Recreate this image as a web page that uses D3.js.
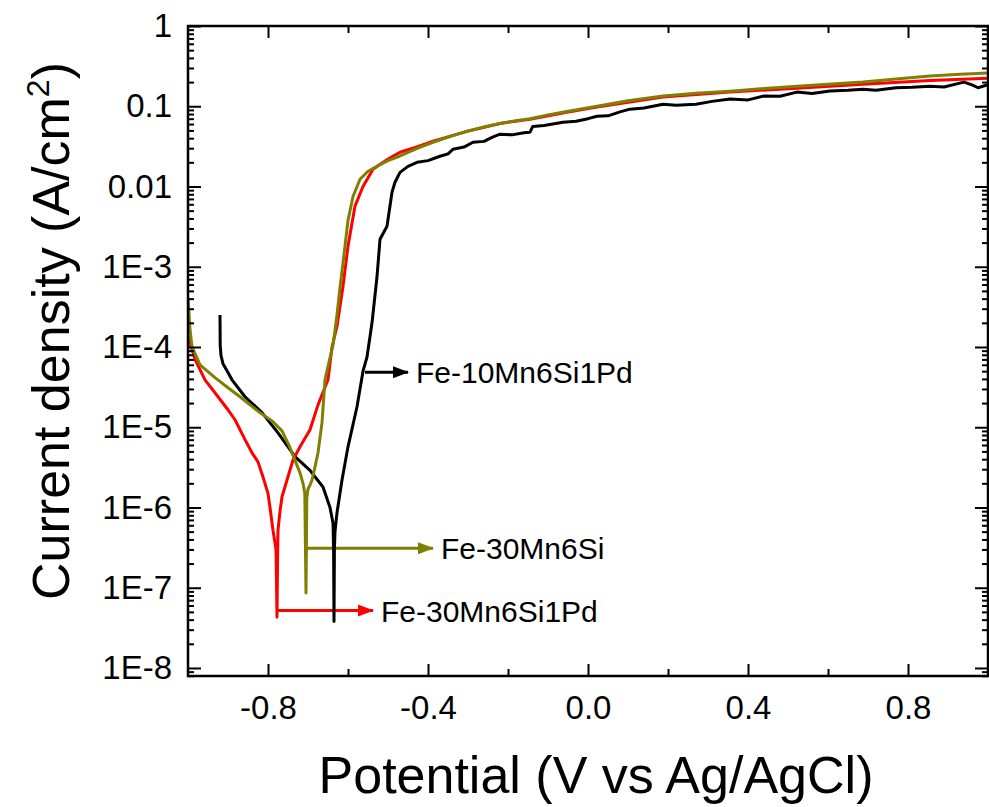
<!DOCTYPE html>
<html>
<head>
<meta charset="utf-8">
<script src="https://cdn.jsdelivr.net/npm/d3@7"></script>
<style>
  body { margin: 0; background: #fff; }
  text { font-family: Arial, "Liberation Sans", sans-serif; }
</style>
</head>
<body>
<div id="chart"></div>
<script>
// ---- data ----
var xTicks = [-0.8, -0.4, 0.0, 0.4, 0.8];
var xTickLabels = ["-0.8", "-0.4", "0.0", "0.4", "0.8"];
var xMinorTicks = [-0.6, -0.2, 0.2, 0.6];
var yTicks = [1, 0.1, 0.01, 1e-3, 1e-4, 1e-5, 1e-6, 1e-7, 1e-8];
var yTickLabels = ["1", "0.1", "0.01", "1E-3", "1E-4", "1E-5", "1E-6", "1E-7", "1E-8"];

// Fe-10Mn6Si1Pd (black)
var blackV = [-0.92, -0.9195, -0.9175, -0.9125, -0.90, -0.89, -0.8575, -0.815, -0.775, -0.7325, -0.695, -0.6625, -0.645, -0.6375, -0.636, -0.635, -0.634, -0.6325, -0.6275, -0.615, -0.60, -0.5775, -0.5625, -0.5525, -0.545, -0.54, -0.5275, -0.52, -0.5025, -0.49, -0.4825, -0.47,
  -0.45, -0.4275, -0.40, -0.37, -0.35, -0.3375, -0.31, -0.2875, -0.26, -0.24, -0.22, -0.19, -0.16, -0.145, -0.138, -0.11, -0.0625, -0.03, 0.0, 0.0225, 0.05, 0.08, 0.105, 0.14, 0.1875, 0.22, 0.27, 0.31, 0.355, 0.40, 0.44, 0.48, 0.5225, 0.56, 0.605, 0.65, 0.6875, 0.72, 0.77, 0.81, 0.855, 0.89, 0.94, 0.96, 0.975, 1.0];
var blackI = [2.5e-4, 1.05e-4, 7.8e-5, 6.2e-5, 4.8e-5, 3.9e-5, 2.4e-5, 1.52e-5, 8.5e-6, 4.3e-6, 2.9e-6, 1.8e-6, 1.0e-6, 6.4e-7, 3.0e-7, 3.8e-8, 3.0e-7, 5.0e-7, 8.6e-7, 2.2e-6, 5.7e-6, 1.8e-5, 5.0e-5, 7.5e-5, 1.35e-4, 2.0e-4, 7.5e-4, 2.2e-3, 3.2e-3, 8.5e-3, 1.13e-2, 1.5e-2,
  0.0178, 0.0200, 0.0210, 0.0238, 0.0255, 0.0291, 0.0310, 0.0356, 0.0365, 0.0410, 0.0449, 0.0440, 0.0468, 0.0475, 0.0560, 0.0575, 0.0633, 0.0650, 0.0700, 0.0752, 0.0760, 0.0850, 0.0920, 0.0950, 0.1060, 0.1030, 0.1060, 0.1150, 0.1230, 0.1200, 0.1340, 0.1330, 0.1500, 0.1440, 0.1550, 0.1580, 0.1630, 0.1580, 0.1700, 0.1720, 0.1780, 0.1740, 0.2000, 0.1850, 0.1700, 0.1850];

// Fe-30Mn6Si1Pd (red)
var redV = [-1.0, -0.9825, -0.9575, -0.925, -0.90, -0.8825, -0.8575, -0.84, -0.825, -0.8125, -0.80, -0.795, -0.7875, -0.78, -0.7775, -0.776, -0.775, -0.77, -0.765, -0.7525, -0.7375, -0.72, -0.695, -0.675, -0.65, -0.64, -0.6275, -0.6125, -0.60, -0.5825, -0.5625, -0.5375, -0.50, -0.47, -0.43, -0.3875, -0.30, -0.22, -0.145, -0.06, 0.0225, 0.1875, 0.355, 0.5225, 0.6875, 0.855, 1.0];
var redI = [1.35e-4, 7.0e-5, 3.9e-5, 2.4e-5, 1.65e-5, 1.24e-5, 7.0e-6, 4.8e-6, 3.7e-6, 2.4e-6, 1.5e-6, 1.0e-6, 5.2e-7, 3.0e-7, 4.3e-8, 2.5e-7, 5.2e-7, 9.0e-7, 1.36e-6, 2.2e-6, 3.9e-6, 5.7e-6, 9.3e-6, 1.9e-5, 3.9e-5, 1.0e-4, 1.8e-4, 5.7e-4, 1.8e-3, 5.7e-3, 1.0e-2, 1.64e-2, 2.2e-2, 2.67e-2, 3.1e-2, 3.67e-2, 4.9e-2, 6.1e-2, 6.9e-2, 8.3e-2, 0.098, 0.130, 0.150, 0.168, 0.188, 0.210, 0.224];

// Fe-30Mn6Si (olive)
var oliveV = [-1.0, -0.995, -0.99, -0.97, -0.9325, -0.90, -0.87, -0.845, -0.82, -0.79, -0.765, -0.745, -0.73, -0.72, -0.7125, -0.708, -0.705, -0.703, -0.70, -0.695, -0.69, -0.6825, -0.675, -0.665, -0.6575, -0.6475, -0.6375, -0.628, -0.62, -0.6075, -0.60, -0.5875, -0.57, -0.55, -0.5275, -0.50, -0.47, -0.43, -0.3875, -0.345, -0.3025, -0.26, -0.22, -0.18, -0.145, -0.10, -0.06, 0.0225, 0.10, 0.1875, 0.27, 0.355, 0.44, 0.5225, 0.60, 0.6875, 0.77, 0.855, 0.93, 1.0];
var oliveI = [4.14e-4, 1.65e-4, 1.01e-4, 6.0e-5, 4.15e-5, 3.1e-5, 2.4e-5, 1.9e-5, 1.52e-5, 1.2e-5, 9.0e-6, 5.6e-6, 3.6e-6, 2.7e-6, 2.0e-6, 1.5e-6, 8.6e-8, 1.3e-6, 1.7e-6, 1.9e-6, 2.2e-6, 3.2e-6, 4.8e-6, 1.14e-5, 3.9e-5, 6.5e-5, 1.05e-4, 2.4e-4, 5.5e-4, 1.8e-3, 3.8e-3, 7.5e-3, 1.23e-2, 1.55e-2, 1.79e-2, 2.1e-2, 2.4e-2, 2.95e-2, 3.56e-2, 4.2e-2, 4.89e-2, 5.5e-2, 6.1e-2, 6.6e-2, 7.0e-2, 7.8e-2, 8.5e-2, 0.100, 0.117, 0.134, 0.145, 0.154, 0.166, 0.178, 0.188, 0.200, 0.218, 0.238, 0.250, 0.259];

// arrow annotations: [V start, V end, current level]
var seriesNames = ["Fe-10Mn6Si1Pd", "Fe-30Mn6Si", "Fe-30Mn6Si1Pd"];
var seriesColors = ["#000000", "#808000", "#ff0000"];
var arrowV0 = [-0.5575, -0.705, -0.7775];
var arrowV1 = [-0.45, -0.3875, -0.5375];
var arrowI = [4.85e-5, 3.1e-7, 5.2e-8];

(function(){
  var W = 989, H = 807;
  var pLeft = 188, pRight = 988, pTop = 26, pBottom = 676;

  var svg = d3.select("#chart").append("svg")
      .attr("width", W)
      .attr("height", H);

  var x = d3.scaleLinear().domain([-1, 1]).range([pLeft, pRight]);
  var y = d3.scaleLog().domain([Math.pow(10, -8.1), 1]).range([pBottom, pTop]);

  var yMinor = [];
  for (var d = -9; d <= 0; d++) {
    for (var k = 2; k <= 9; k++) {
      var v = k * Math.pow(10, d);
      if (v >= y.domain()[0] && v <= 1) yMinor.push(v);
    }
  }

  var defs = svg.append("defs");
  defs.append("clipPath").attr("id", "plotclip")
    .append("rect")
      .attr("x", pLeft).attr("y", pTop)
      .attr("width", pRight - pLeft).attr("height", pBottom - pTop);

  seriesColors.forEach(function(c, i){
    defs.append("marker")
        .attr("id", "arrow" + i)
        .attr("markerUnits", "userSpaceOnUse")
        .attr("viewBox", "0 0 16 12")
        .attr("refX", 15).attr("refY", 6)
        .attr("markerWidth", 16).attr("markerHeight", 12)
        .attr("orient", "auto")
      .append("path")
        .attr("d", "M0,0 L16,6 L0,12 Z")
        .style("fill", c);
  });

  // annotations (under the curves)
  var ann = svg.append("g");
  seriesNames.forEach(function(name, i){
    ann.append("line")
        .attr("x1", x(arrowV0[i])).attr("y1", y(arrowI[i]))
        .attr("x2", x(arrowV1[i])).attr("y2", y(arrowI[i]))
        .style("stroke", seriesColors[i])
        .style("stroke-width", 3)
        .attr("marker-end", "url(#arrow" + i + ")");
    ann.append("text")
        .attr("x", x(arrowV1[i]) + 8)
        .attr("y", y(arrowI[i]) + 11)
        .style("font-size", "30px")
        .style("fill", "#000")
        .text(name);
  });

  // curves
  var line = d3.line()
      .x(function(p){ return x(p[0]); })
      .y(function(p){ return y(p[1]); });

  var curves = svg.append("g").attr("clip-path", "url(#plotclip)");
  var series = [
    { v: blackV, i: blackI, color: "#000000" },
    { v: redV, i: redI, color: "#ff0000" },
    { v: oliveV, i: oliveI, color: "#808000" }
  ];
  series.forEach(function(s){
    curves.append("path")
        .datum(d3.zip(s.v, s.i))
        .attr("d", line)
        .style("fill", "none")
        .style("stroke", s.color)
        .style("stroke-width", 3)
        .style("stroke-linejoin", "round");
  });

  // axes
  function styleAxis(g){
    g.select(".domain").remove();
    g.attr("font-size", null).attr("font-family", null);
    g.selectAll(".tick line").style("stroke", "#000").style("stroke-width", 2);
    g.selectAll("text").style("font-size", "33px").style("fill", "#000");
  }

  svg.append("g").attr("transform", "translate(0," + pBottom + ")")
    .call(d3.axisBottom(x).tickValues(xTicks).tickSize(-12).tickPadding(20)
      .tickFormat(function(d, i){ return xTickLabels[i]; }))
    .call(styleAxis);
  svg.append("g").attr("transform", "translate(0," + pBottom + ")")
    .call(d3.axisBottom(x).tickValues(xMinorTicks).tickSize(-7).tickFormat(""))
    .call(styleAxis);
  svg.append("g").attr("transform", "translate(0," + pTop + ")")
    .call(d3.axisTop(x).tickValues(xTicks).tickSize(-12).tickFormat(""))
    .call(styleAxis);
  svg.append("g").attr("transform", "translate(0," + pTop + ")")
    .call(d3.axisTop(x).tickValues(xMinorTicks).tickSize(-7).tickFormat(""))
    .call(styleAxis);

  svg.append("g").attr("transform", "translate(" + pLeft + ",0)")
    .call(d3.axisLeft(y).tickValues(yTicks).tickSize(-13).tickPadding(16)
      .tickFormat(function(d, i){ return yTickLabels[i]; }))
    .call(styleAxis);
  svg.append("g").attr("transform", "translate(" + pLeft + ",0)")
    .call(d3.axisLeft(y).tickValues(yMinor).tickSize(-6).tickFormat(""))
    .call(styleAxis);
  svg.append("g").attr("transform", "translate(" + pRight + ",0)")
    .call(d3.axisRight(y).tickValues(yTicks).tickSize(-13).tickFormat(""))
    .call(styleAxis);
  svg.append("g").attr("transform", "translate(" + pRight + ",0)")
    .call(d3.axisRight(y).tickValues(yMinor).tickSize(-6).tickFormat(""))
    .call(styleAxis);

  svg.append("rect")
      .attr("x", pLeft).attr("y", pTop)
      .attr("width", pRight - pLeft).attr("height", pBottom - pTop)
      .style("fill", "none")
      .style("stroke", "#000")
      .style("stroke-width", 2.5);

  // titles
  svg.append("text")
      .attr("x", 596).attr("y", 793)
      .attr("text-anchor", "middle")
      .style("font-size", "52px")
      .text("Potential (V vs Ag/AgCl)");

  var yt = svg.append("text")
      .attr("transform", "translate(69,331) rotate(-90)")
      .attr("text-anchor", "middle")
      .style("font-size", "52px");
  yt.append("tspan").text("Current density (A/cm");
  yt.append("tspan").attr("dy", -20).style("font-size", "32px").text("2");
  yt.append("tspan").attr("dy", 20).text(")");
})();
</script>
</body>
</html>
